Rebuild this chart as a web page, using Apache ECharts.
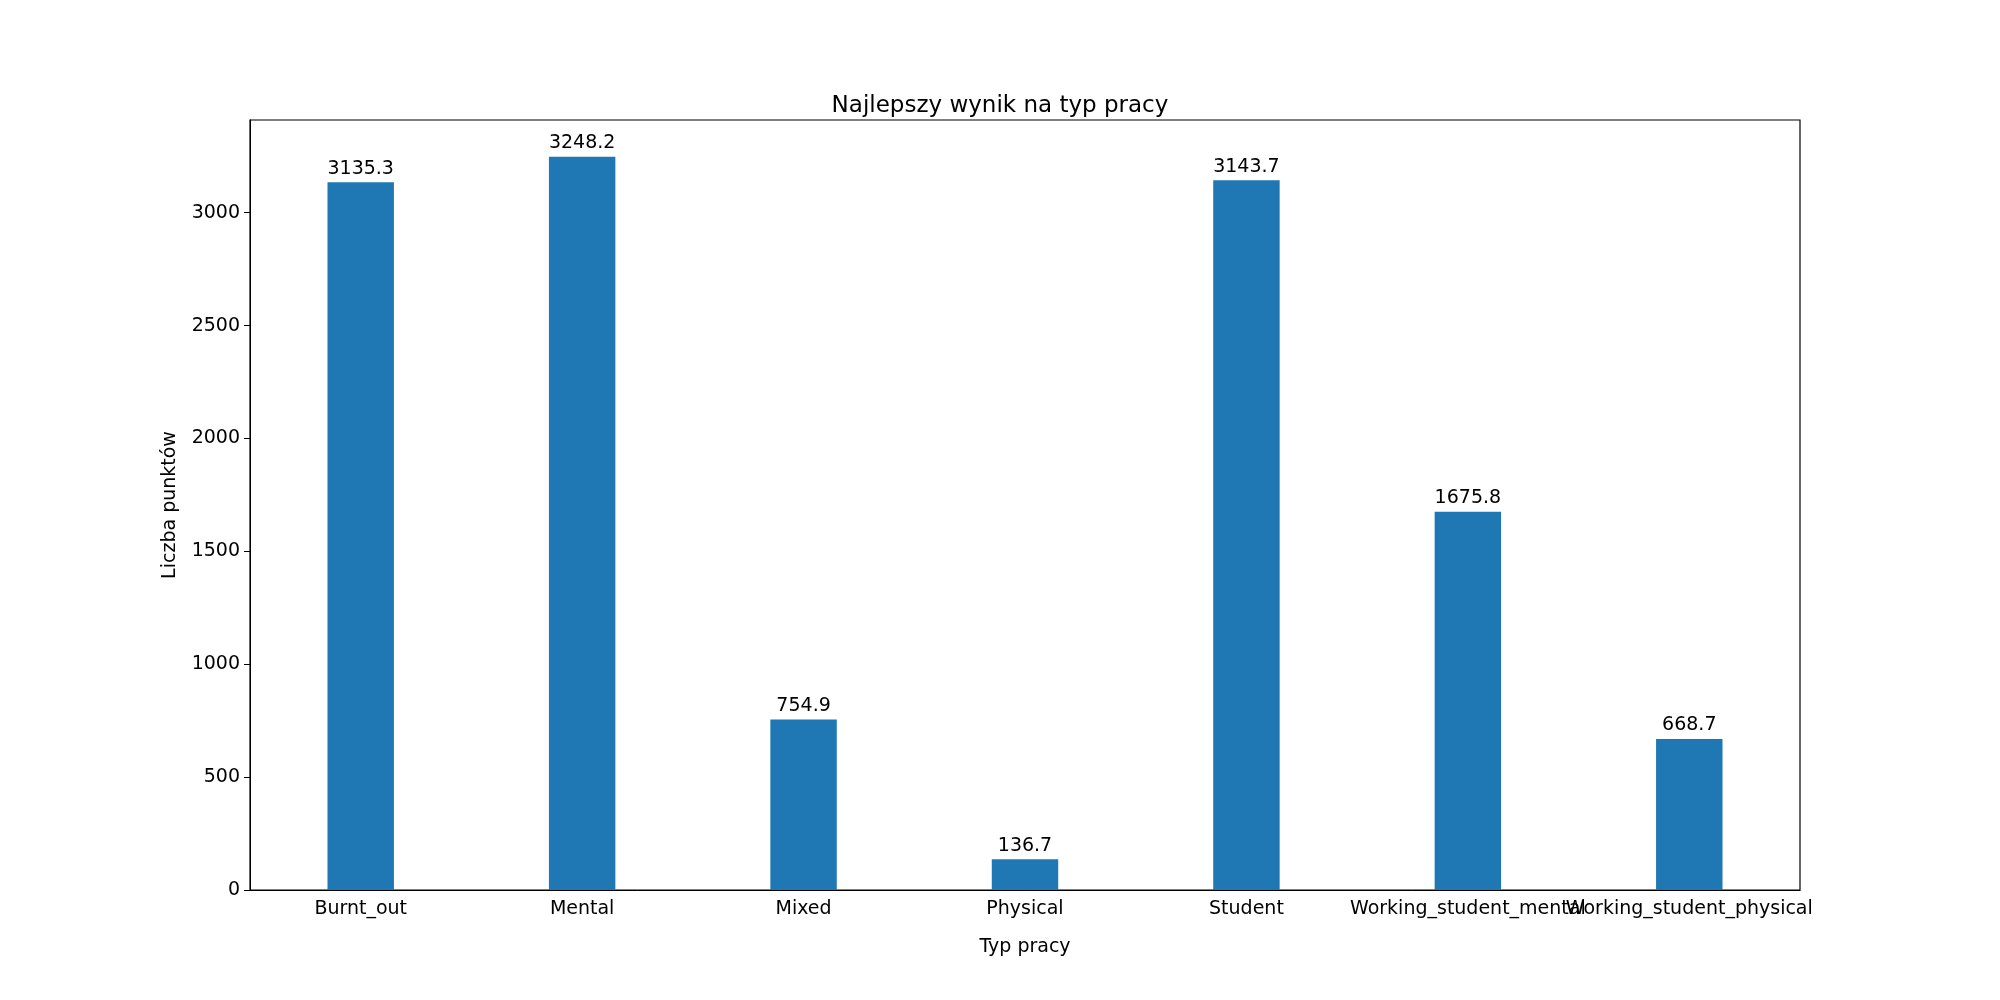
<!DOCTYPE html>
<html>
<head>
<meta charset="utf-8">
<script src="https://cdn.jsdelivr.net/npm/echarts@6/dist/echarts.min.js"></script>
<style>html,body{margin:0;padding:0;background:#fff}#chart{width:2000px;height:1000px}</style>
</head>
<body>
<div id="chart"></div>
<script>
const categories = ["Burnt_out", "Mental", "Mixed", "Physical", "Student", "Working_student_mental", "Working_student_physical"];
const values = [3135.3, 3248.2, 754.9, 136.7, 3143.7, 1675.8, 668.7];
const yTicks = [0, 500, 1000, 1500, 2000, 2500, 3000];

const font = "DejaVu Sans";
const chart = echarts.init(document.getElementById("chart"));
chart.setOption({
  animation: false,
  textStyle: { fontFamily: font, color: "#000" },
  title: {
    text: "Najlepszy wynik na typ pracy",
    left: "center", top: 90,
    textStyle: { fontFamily: font, fontSize: 23, fontWeight: "normal", color: "#000" }
  },
  grid: { left: 250, right: 200, top: 120, bottom: 110, show: true, borderColor: "#000", borderWidth: 1.2 },
  xAxis: {
    type: "category",
    data: categories,
    name: "Typ pracy",
    nameLocation: "middle",
    nameGap: 48,
    nameTextStyle: { fontFamily: font, fontSize: 19, color: "#000" },
    axisLine: { lineStyle: { color: "#000" } },
    axisTick: { alignWithLabel: true, length: 6, lineStyle: { color: "#000" } },
    axisLabel: { fontFamily: font, fontSize: 19, color: "#000", interval: 0, margin: 10 },
    splitLine: { show: false }
  },
  yAxis: {
    type: "value",
    min: 0,
    max: 3248.2 * 1.05,
    interval: 500,
    name: "Liczba punktów",
    nameLocation: "middle",
    nameGap: 70,
    nameTextStyle: { fontFamily: font, fontSize: 19, color: "#000" },
    axisLine: { show: true, lineStyle: { color: "#000" } },
    axisTick: { show: true, length: 6, lineStyle: { color: "#000" } },
    axisLabel: {
      fontFamily: font, fontSize: 19, color: "#000", margin: 10, showMaxLabel: false,
      formatter: v => (yTicks.includes(v) ? String(v) : "")
    },
    splitLine: { show: false }
  },
  series: [{
    type: "bar",
    data: values,
    barWidth: "30%",
    itemStyle: { color: "#1f77b4" },
    label: {
      show: true, position: "top", distance: 4,
      fontFamily: font, fontSize: 19, color: "#000",
      formatter: p => p.value.toFixed(1)
    }
  }]
});
</script>
</body>
</html>
